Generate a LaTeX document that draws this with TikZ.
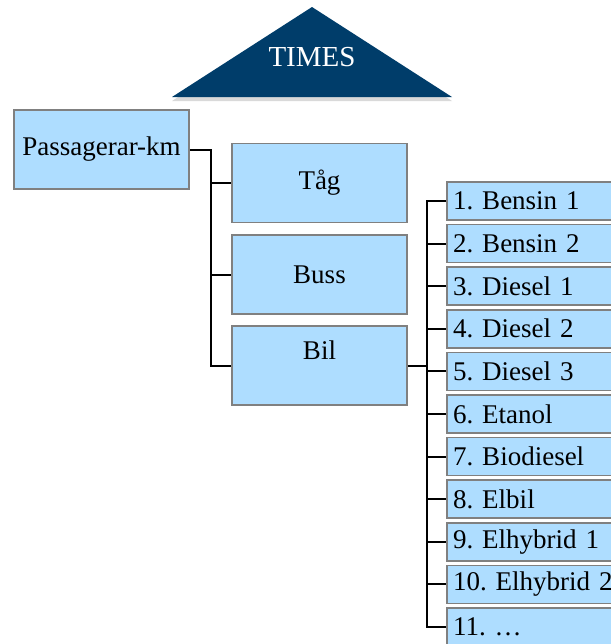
\documentclass[tikz,border=0pt]{standalone}
\usepackage{fontspec}
\setmainfont{Liberation Serif}
\usepackage{tikz}
\usetikzlibrary{shapes.geometric,calc,shadows,positioning}
\definecolor{boxblue}{RGB}{174,221,255}
\definecolor{roofblue}{RGB}{0,61,106}
\frenchspacing

\begin{document}
\begin{tikzpicture}[x=0.5pt,y=-0.5pt]
	\tikzstyle{every node} = [font=\fontsize{13.5}{16}\selectfont]
	\tikzstyle{box} = [rectangle, draw = gray, line width = 0.8pt, fill = boxblue, minimum width = 87.5pt, minimum height = 39.5pt, inner sep = 0pt]
	\tikzstyle{itembox} = [rectangle, draw = gray, line width = 0.8pt, fill = boxblue, text width = 84pt, inner xsep = 3pt, inner ysep = 0pt, minimum height = 19pt, align = left]
	\tikzstyle{link} = [draw, line width = 1pt]
\useasboundingbox (0,0) rectangle (611,644);

% roof
\coordinate (top) at (312,7);
\coordinate (left) at (172,97);
\coordinate (right) at (452,97);
\fill[roofblue, drop shadow = {shadow xshift = 0pt, shadow yshift = -2pt, opacity = 0.3}] (top) -- (right) -- (left) -- cycle;
\node[text = white, font = \fontsize{14.5}{17}\selectfont] (times) at (312,57) {TIMES};

\node[box] (pkm) at (101.5,149.5) {Passagerar-km};
\node[box] (tag) at (319.5,183) {Tåg};
\node[box] (buss) at (319.5,274.5) {Buss};
\node[box] (bil) at (319.5,365.5) {};
\node (biltext) at ($(bil.north)+(0,25)$) {Bil};

\foreach \name [count=\i] in {1. Bensin 1, 2. Bensin 2, 3. Diesel 1, 4. Diesel 2, 5. Diesel 3, 6. Etanol, 7. Biodiesel, 8. Elbil, 9. Elhybrid 1, 10. Elhybrid 2, 11. \ldots}
	\node[itembox] (item\i) at ({537},{201+42.6*(\i-1)}) {\name};

\coordinate (j1) at (211,149.5);
\coordinate (j2) at (427,365.5);

	\path[link] (pkm.east) -- (j1) |- (tag);
	\path[link] (j1) |- (buss);
	\path[link] (j1) |- (bil);
	\path[link] (bil.east) -- (j2);
\foreach \i in {1,...,11}
	\path[link] (j2) |- (item\i);
\end{tikzpicture}
\end{document}
